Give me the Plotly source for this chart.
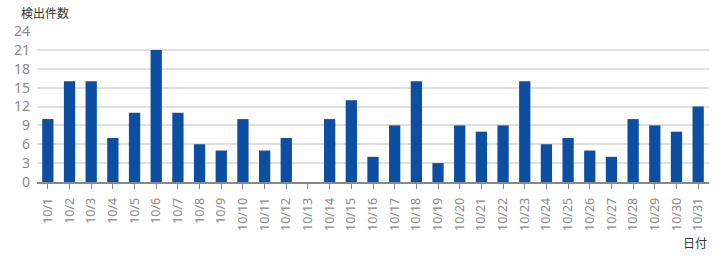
import plotly.graph_objects as go

dates = [f"10/{d}" for d in range(1, 32)]
counts = [10, 16, 16, 7, 11, 21, 11, 6, 5, 10, 5, 7, 0, 10, 13, 4, 9, 16, 3, 9,
          8, 9, 16, 6, 7, 5, 4, 10, 9, 8, 12]
y_ticks = [0, 3, 6, 9, 12, 15, 18, 21, 24]
y_title = "検出件数"
x_title = "日付"

W, H = 720, 260
L, R, T, B = 37, 11, 31, 78

fig = go.Figure(go.Bar(x=dates, y=counts, marker=dict(color="#0b4ea2", line=dict(width=0))))

fig.update_layout(
    width=W, height=H,
    margin=dict(l=L, r=R, t=T, b=B),
    paper_bgcolor="white", plot_bgcolor="white",
    bargap=0.48,
    showlegend=False,
    font=dict(family="Noto Sans CJK JP, Noto Sans", color="#888888", size=12),
    xaxis=dict(
        type="category", tickangle=-90,
        showline=True, linecolor="#888888", linewidth=1.5,
        ticks="outside", ticklen=5, tickcolor="#888888",
        tickfont=dict(family="Noto Sans", size=12.5, color="#8a8a8a"),
        ticklabelstandoff=4,
        showgrid=False,
    ),
    yaxis=dict(
        range=[0, 24], tickvals=y_ticks,
        showgrid=True, gridcolor="#e0e0e0", gridwidth=1.5,
        zeroline=False, showline=False,
        tickfont=dict(family="Noto Sans", size=14, color="#8a8a8a"),
        ticklen=0, ticks="",
        ticklabelstandoff=6,
    ),
    annotations=[
        dict(text=y_title, xref="paper", yref="paper", x=-(L - 19) / (W - L - R), y=1 + (T - 12) / (H - T - B),
             xanchor="left", yanchor="middle", showarrow=False,
             font=dict(family="Noto Sans CJK JP", size=12, color="#333333")),
        dict(text=x_title, xref="paper", yref="paper", x=1.0, y=-(242 - (H - B)) / (H - T - B),
             xanchor="right", yanchor="middle", showarrow=False,
             font=dict(family="Noto Sans CJK JP", size=12, color="#333333")),
    ],
)

fig.write_html("out.html")
